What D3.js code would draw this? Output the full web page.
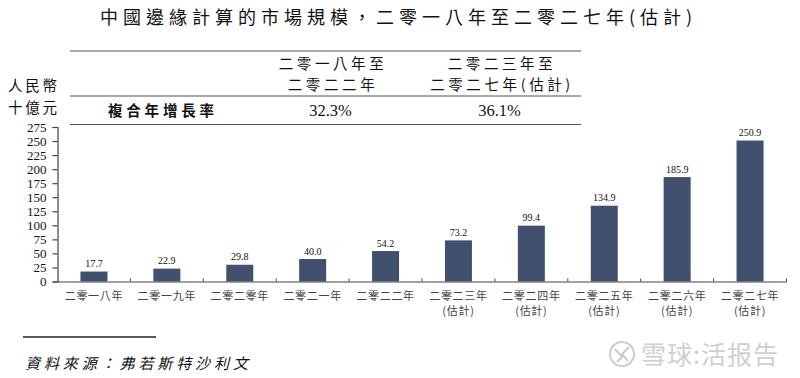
<!DOCTYPE html>
<html>
<head>
<meta charset="utf-8">
<script src="https://cdn.jsdelivr.net/npm/d3@7"></script>
<style>
  html, body { margin: 0; padding: 0; background: #fff; }
  text { font-family: "Noto Sans CJK TC", sans-serif; fill: #111; }
  .num { font-family: "Liberation Serif", serif; }
</style>
</head>
<body>
<div class="chart"></div>
<script>
const categories = ['二零一八年', '二零一九年', '二零二零年', '二零二一年', '二零二二年',
  '二零二三年', '二零二四年', '二零二五年', '二零二六年', '二零二七年'];
const values = [17.7, 22.9, 29.8, 40.0, 54.2, 73.2, 99.4, 134.9, 185.9, 250.9];
const estimated = [false, false, false, false, false, true, true, true, true, true];
const yTicks = [0, 25, 50, 75, 100, 125, 150, 175, 200, 225, 250, 275];

const tableHeads = [['二零一八年至', '二零二二年'], ['二零二三年至', '二零二七年(估計)']];
const cagrValues = ['32.3%', '36.1%'];

let svg = d3.select('.chart')
  .append('svg')
  .attr('width', 800)
  .attr('height', 378)
  .style('display', 'block');

let x = d3.scaleBand()
  .domain(categories)
  .range([57.5, 786.5]);

let y = d3.scaleLinear()
  .domain([0, 275])
  .range([281.5, 127]);

const barWidth = 27;

// title, comma and colon below are written as escapes so they stay full width
svg.append('text')
  .attr('x', 100)
  .attr('y', 24)
  .attr('font-size', 18)
  .attr('letter-spacing', 5)
  .text('中國邊緣計算的市場規模\uFF0C二零一八年至二零二七年(估計)');

// cagr table
[51, 96, 124.5].forEach(ly => {
  svg.append('line')
    .attr('x1', 70).attr('x2', 581)
    .attr('y1', ly).attr('y2', ly)
    .attr('stroke', '#555')
    .attr('stroke-width', 1.2);
});

const colX = [333, 502];

tableHeads.forEach((lines, i) => {
  lines.forEach((t, j) => {
    svg.append('text')
      .attr('x', colX[i])
      .attr('y', 69 + j * 21)
      .attr('text-anchor', 'middle')
      .attr('font-size', 14.5)
      .attr('letter-spacing', 3.6)
      .text(t);
  });
  svg.append('text')
    .attr('class', 'num')
    .attr('x', colX[i] - 2.5)
    .attr('y', 116)
    .attr('text-anchor', 'middle')
    .attr('font-size', 16.5)
    .text(cagrValues[i]);
});

svg.append('text')
  .attr('x', 108)
  .attr('y', 116)
  .attr('font-size', 14.5)
  .attr('font-weight', 700)
  .attr('letter-spacing', 3.8)
  .text('複合年增長率');

// unit
['人民幣', '十億元'].forEach((t, i) => {
  svg.append('text')
    .attr('x', 8)
    .attr('y', 91 + i * 21.5)
    .attr('font-size', 14.5)
    .attr('letter-spacing', 2.7)
    .text(t);
});

// y axis
let yAxis = d3.axisLeft(y)
  .tickValues(yTicks)
  .tickSize(5)
  .tickPadding(6);

let yG = svg.append('g')
  .attr('transform', 'translate(57.5, 0)')
  .call(yAxis);

yG.selectAll('path, line').attr('stroke', '#444').attr('stroke-width', 1.2);
yG.selectAll('text')
  .attr('class', 'num')
  .attr('font-size', 13)
  .style('font-family', '"Liberation Serif", serif')
  .style('fill', '#111');

// bars
svg.selectAll('rect.bar')
  .data(values)
  .enter()
  .append('rect')
  .attr('class', 'bar')
  .attr('x', (d, i) => x(categories[i]) + x.bandwidth() / 2 - barWidth / 2)
  .attr('y', d => y(d))
  .attr('width', barWidth)
  .attr('height', d => y(0) - y(d))
  .attr('fill', '#40506d');

svg.selectAll('text.val')
  .data(values)
  .enter()
  .append('text')
  .attr('class', 'val num')
  .attr('x', (d, i) => x(categories[i]) + x.bandwidth() / 2)
  .attr('y', d => y(d) - 4.5)
  .attr('text-anchor', 'middle')
  .attr('font-size', 10)
  .text(d => d.toFixed(1));

// x axis, ticks sit between the bands
let xAxis = d3.axisBottom(x).tickSize(0).tickPadding(11);

let xG = svg.append('g')
  .attr('transform', `translate(0, ${y(0)})`)
  .call(xAxis);

xG.select('.domain').attr('stroke', '#444').attr('stroke-width', 1.2);
xG.selectAll('text')
  .attr('font-size', 11)
  .attr('letter-spacing', 0.7)
  .style('fill', '#444');

svg.selectAll('line.sep')
  .data(categories)
  .enter()
  .append('line')
  .attr('class', 'sep')
  .attr('x1', d => x(d) + x.step())
  .attr('x2', d => x(d) + x.step())
  .attr('y1', y(0) - 3)
  .attr('y2', y(0))
  .attr('stroke', '#444');

svg.selectAll('text.est')
  .data(categories.filter((c, i) => estimated[i]))
  .enter()
  .append('text')
  .attr('class', 'est')
  .attr('x', d => x(d) + x.bandwidth() / 2)
  .attr('y', 315)
  .attr('text-anchor', 'middle')
  .attr('font-size', 11)
  .attr('letter-spacing', 0.7)
  .style('fill', '#444')
  .text('(估計)');

// source note
svg.append('line')
  .attr('x1', 23).attr('x2', 156)
  .attr('y1', 337).attr('y2', 337)
  .attr('stroke', '#222')
  .attr('stroke-width', 1.5);

svg.append('text')
  .attr('x', 25)
  .attr('y', 369)
  .attr('font-size', 15)
  .attr('font-style', 'italic')
  .attr('letter-spacing', 3.9)
  .text('資料來源\uFF1A弗若斯特沙利文');

// watermark
let mark = svg.append('g').attr('transform', 'translate(622, 354)');
mark.append('circle')
  .attr('r', 12)
  .attr('fill', 'none')
  .attr('stroke', '#ccc')
  .attr('stroke-width', 2);
mark.append('path')
  .attr('d', 'M-7,-5 L0,3 L-5,8 M7,-7 L0,0 L6,7')
  .attr('fill', 'none')
  .attr('stroke', '#ccc')
  .attr('stroke-width', 2);

svg.append('text')
  .attr('x', 641)
  .attr('y', 364)
  .attr('font-size', 25)
  .attr('letter-spacing', 1)
  .style('fill', '#cfcfcf')
  .text('雪球:活报告');
</script>
</body>
</html>
